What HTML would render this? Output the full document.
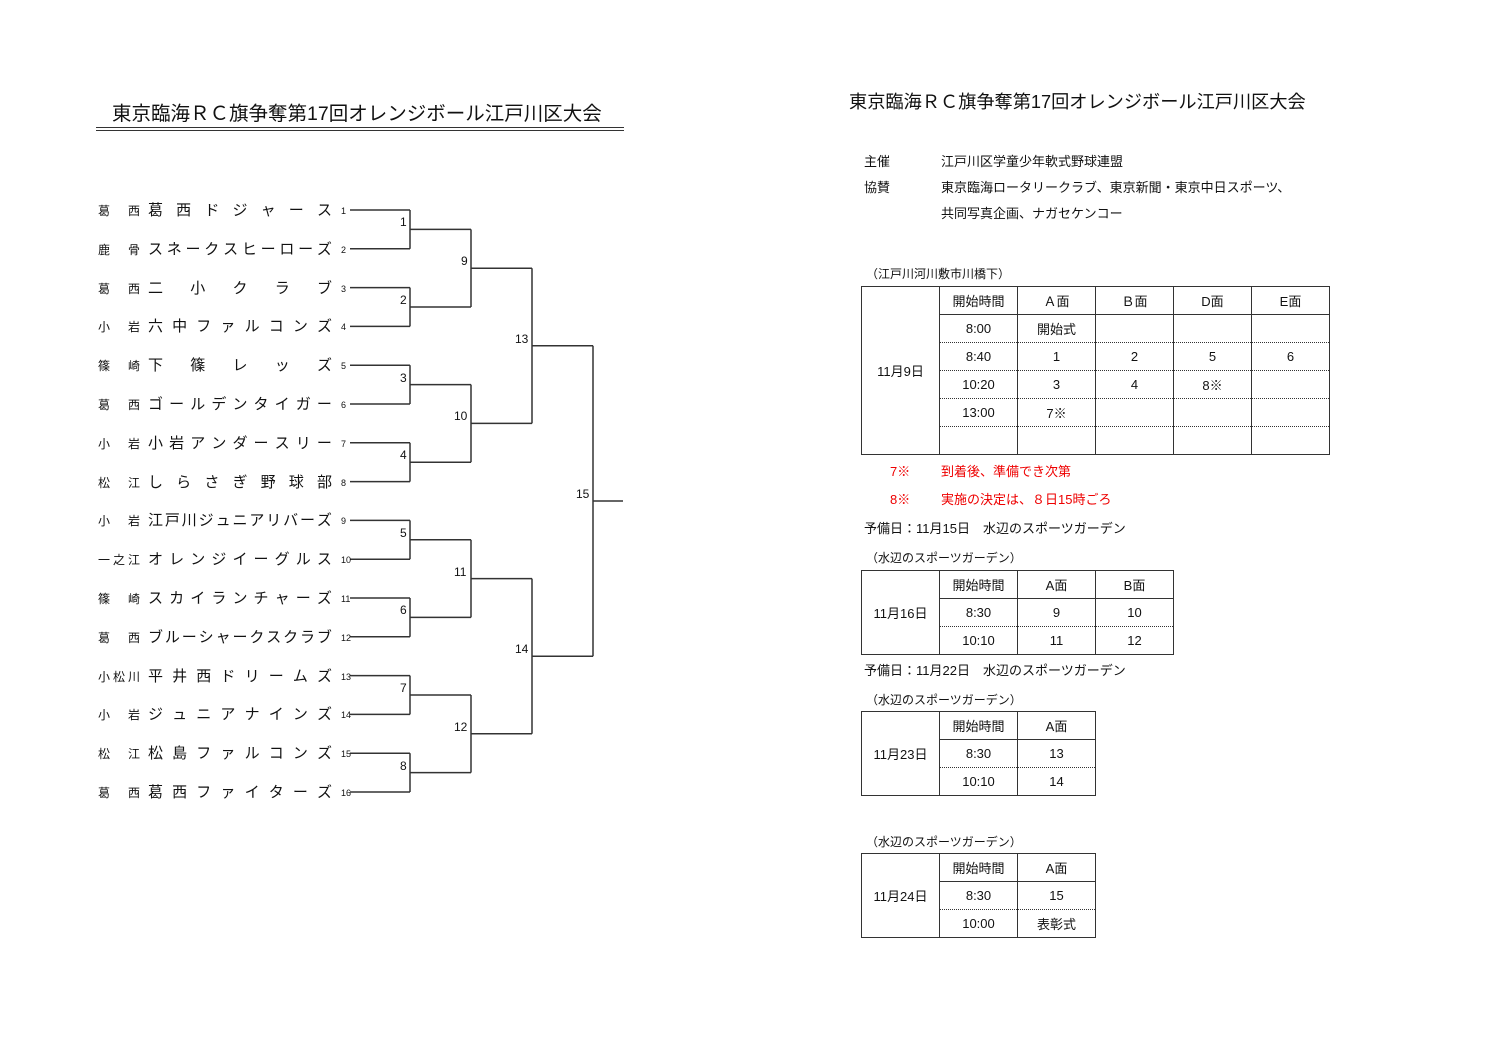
<!DOCTYPE html>
<html><head><meta charset="utf-8"><style>
body{margin:0;width:1497px;height:1058px;background:#fff;position:relative;overflow:hidden;font-family:"Liberation Sans","Noto Sans CJK JP",sans-serif;color:#111}
.a{position:absolute;white-space:nowrap}
.p{font-size:12px;height:20px;line-height:20px;width:42px;display:flex;justify-content:space-between}
.n{font-size:15px;height:20px;line-height:20px;width:184px;display:flex;justify-content:space-between}
.no{font-size:9px;line-height:20px;height:20px}
.rn{font-size:12px;line-height:14px}
table{position:absolute;border-collapse:collapse;font-size:13px}
td{border:1px solid #333;width:77px;height:27px;text-align:center;padding:0}
tr.d td{border-bottom:1px dotted #333}
tr.d + tr td{border-top:1px dotted #333}
.s{font-size:12px}
.red{color:#e00;font-size:13px}
</style></head><body>
<div class="a" style="left:112px;top:97px;font-size:19.5px">東京臨海ＲＣ旗争奪第17回オレンジボール江戸川区大会</div>
<div class="a" style="left:96px;top:127px;width:528px;border-top:1px solid #333;height:2px;border-bottom:1.5px solid #333"></div>

<div class="a" style="left:849px;top:88px;font-size:18.2px">東京臨海ＲＣ旗争奪第17回オレンジボール江戸川区大会</div>
<div class="a" style="left:864px;top:151px;font-size:13px">主催</div>
<div class="a" style="left:941px;top:151px;font-size:13px">江戸川区学童少年軟式野球連盟</div>
<div class="a" style="left:864px;top:177px;font-size:13px">協賛</div>
<div class="a" style="left:941px;top:177px;font-size:13px">東京臨海ロータリークラブ、東京新聞・東京中日スポーツ、</div>
<div class="a" style="left:941px;top:203px;font-size:13px">共同写真企画、ナガセケンコー</div>

<svg class="a" style="left:0;top:0" width="700" height="820">
<g stroke="#333" stroke-width="1.5" fill="none" id="br"></g>
</svg>
<div id="tx"></div>

<div class="a s" style="left:866px;top:265px">（江戸川河川敷市川橋下）</div>
<table style="left:861px;top:286px">
<tr><td rowspan="6">11月9日</td><td>開始時間</td><td>Ａ面</td><td>Ｂ面</td><td>D面</td><td>E面</td></tr>
<tr class="d"><td>8:00</td><td>開始式</td><td></td><td></td><td></td></tr>
<tr class="d"><td>8:40</td><td>1</td><td>2</td><td>5</td><td>6</td></tr>
<tr class="d"><td>10:20</td><td>3</td><td>4</td><td>8※</td><td></td></tr>
<tr class="d"><td>13:00</td><td>7※</td><td></td><td></td><td></td></tr>
<tr><td></td><td></td><td></td><td></td><td></td></tr>
</table>
<div class="a red" style="left:890px;top:461px">7※</div>
<div class="a red" style="left:941px;top:461px">到着後、準備でき次第</div>
<div class="a red" style="left:890px;top:489px">8※</div>
<div class="a red" style="left:941px;top:489px">実施の決定は、８日15時ごろ</div>
<div class="a" style="left:864px;top:518px;font-size:13px">予備日：11月15日　水辺のスポーツガーデン</div>

<div class="a s" style="left:866px;top:549px">（水辺のスポーツガーデン）</div>
<table style="left:861px;top:570px">
<tr><td rowspan="3">11月16日</td><td>開始時間</td><td>A面</td><td>B面</td></tr>
<tr class="d"><td>8:30</td><td>9</td><td>10</td></tr>
<tr><td>10:10</td><td>11</td><td>12</td></tr>
</table>
<div class="a" style="left:864px;top:660px;font-size:13px">予備日：11月22日　水辺のスポーツガーデン</div>

<div class="a s" style="left:866px;top:691px">（水辺のスポーツガーデン）</div>
<table style="left:861px;top:711px">
<tr><td rowspan="3">11月23日</td><td>開始時間</td><td>A面</td></tr>
<tr class="d"><td>8:30</td><td>13</td></tr>
<tr><td>10:10</td><td>14</td></tr>
</table>

<div class="a s" style="left:866px;top:833px">（水辺のスポーツガーデン）</div>
<table style="left:861px;top:853px">
<tr><td rowspan="3">11月24日</td><td>開始時間</td><td>A面</td></tr>
<tr class="d"><td>8:30</td><td>15</td></tr>
<tr><td>10:00</td><td>表彰式</td></tr>
</table>

<script>
var teams=[["葛西","葛西ドジャース"],["鹿骨","スネークスヒーローズ"],["葛西","二小クラブ"],["小岩","六中ファルコンズ"],["篠崎","下篠レッズ"],["葛西","ゴールデンタイガー"],["小岩","小岩アンダースリー"],["松江","しらさぎ野球部"],["小岩","江戸川ジュニアリバーズ"],["一之江","オレンジイーグルス"],["篠崎","スカイランチャーズ"],["葛西","ブルーシャークスクラブ"],["小松川","平井西ドリームズ"],["小岩","ジュニアナインズ"],["松江","松島ファルコンズ"],["葛西","葛西ファイターズ"]];
var h="",g="";
function Y(i){return 210+i*38.8;}
function sp(s){return [...s].map(c=>"<span>"+c+"</span>").join("");}
teams.forEach(function(t,i){var y=Y(i);
h+='<div class="a p" style="left:98px;top:'+(y-9)+'px">'+sp(t[0])+'</div>';
h+='<div class="a n" style="left:148px;top:'+(y-9)+'px">'+sp(t[1])+'</div>';
h+='<div class="a no" style="left:341px;top:'+(y-9)+'px">'+(i+1)+'</div>';
g+='<line x1="350" y1="'+y+'" x2="410" y2="'+y+'"/>';});
var ys=teams.map((t,i)=>Y(i)),xs=[410,471,532,593],num=1;
for(var r=0;r<4;r++){var ny=[];for(var k=0;k<ys.length;k+=2){var a=ys[k],b=ys[k+1],m=(a+b)/2;
g+='<line x1="'+xs[r]+'" y1="'+a+'" x2="'+xs[r]+'" y2="'+b+'"/>';
var x2=r<3?xs[r+1]:623;g+='<line x1="'+xs[r]+'" y1="'+m+'" x2="'+x2+'" y2="'+m+'"/>';
var lbl=String(num++);h+='<div class="a rn" style="left:'+(xs[r]-3-lbl.length*7)+'px;top:'+(m-14)+'px">'+lbl+'</div>';ny.push(m);}ys=ny;}
document.getElementById("br").innerHTML=g;document.getElementById("tx").innerHTML=h;
</script>
</body></html>
